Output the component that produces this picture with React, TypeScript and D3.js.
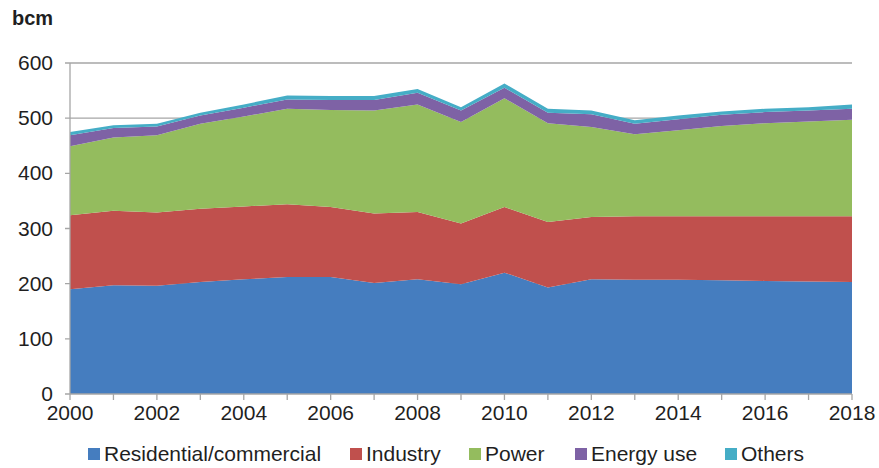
import React, { useEffect, useRef } from "react";
import * as d3 from "d3";

const years = [2000, 2001, 2002, 2003, 2004, 2005, 2006, 2007, 2008, 2009, 2010, 2011, 2012, 2013, 2014, 2015, 2016, 2017, 2018];
const residential = [190, 197, 196, 203, 208, 212, 212, 201, 208, 199, 220, 193, 208, 207, 207, 206, 205, 204, 203];
const industry = [134, 135, 133, 133, 132, 132, 127, 126, 122, 110, 119, 119, 113, 115, 115, 116, 117, 118, 119];
const power = [125, 133, 140, 154, 163, 173, 176, 187, 195, 184, 197, 179, 163, 149, 156, 164, 169, 172, 175];
const energyUse = [20, 17, 16, 15, 16, 17, 18, 19, 21, 21, 19, 19, 23, 19, 20, 20, 20, 20, 20];
const others = [6, 5, 5, 5, 6, 7, 7, 7, 7, 6, 8, 7, 7, 6, 7, 6, 6, 6, 8];

const seriesNames = ["Residential/commercial", "Industry", "Power", "Energy use", "Others"];
const colors = ["#457dbf", "#c0504d", "#94bc5e", "#7e62a5", "#45adc6"];
const yTicks = [0, 100, 200, 300, 400, 500, 600];
const xTicks = [2000, 2002, 2004, 2006, 2008, 2010, 2012, 2014, 2016, 2018];

export default function App() {
  const svgRef = useRef(null);

  useEffect(() => {
    const svg = d3.select(svgRef.current);
    svg.selectAll("*").remove();
    const font = "'Liberation Sans', Arial, sans-serif";
    const left = 70, right = 852, top = 63, bottom = 394;
    const textColor = "#1f1f1f";

    const x = d3.scaleLinear().domain([2000, 2018]).range([left, right]);
    const y = d3.scaleLinear().domain([0, 600]).range([bottom, top]);

    const rows = years.map((yr, i) => ({
      year: yr,
      s0: residential[i],
      s1: industry[i],
      s2: power[i],
      s3: energyUse[i],
      s4: others[i],
    }));
    const layers = d3.stack().keys(["s0", "s1", "s2", "s3", "s4"])(rows);

    // gridlines
    svg
      .append("g")
      .selectAll("line")
      .data(yTicks.filter((t) => t > 0))
      .enter()
      .append("line")
      .attr("x1", left - 5)
      .attr("x2", right)
      .attr("y1", (d) => y(d))
      .attr("y2", (d) => y(d))
      .attr("stroke", "#a6a6a6")
      .attr("stroke-width", 1.3);

    const area = d3
      .area()
      .x((d) => x(d.data.year))
      .y0((d) => y(d[0]))
      .y1((d) => y(d[1]));

    svg
      .append("g")
      .selectAll("path")
      .data(layers)
      .enter()
      .append("path")
      .attr("d", area)
      .attr("fill", (d, i) => colors[i]);

    // axes
    const axisColor = "#a6a6a6";
    svg.append("line").attr("x1", left).attr("x2", left).attr("y1", top).attr("y2", bottom)
      .attr("stroke", axisColor).attr("stroke-width", 1.3);
    svg.append("line").attr("x1", left - 5).attr("x2", right).attr("y1", bottom).attr("y2", bottom)
      .attr("stroke", axisColor).attr("stroke-width", 1.3);

    svg
      .append("g")
      .selectAll("line")
      .data(years)
      .enter()
      .append("line")
      .attr("x1", (d) => x(d))
      .attr("x2", (d) => x(d))
      .attr("y1", bottom)
      .attr("y2", bottom + 6)
      .attr("stroke", axisColor)
      .attr("stroke-width", 1.3);

    svg
      .append("g")
      .selectAll("text")
      .data(yTicks)
      .enter()
      .append("text")
      .attr("x", left - 17)
      .attr("y", (d) => y(d) + 7)
      .attr("text-anchor", "end")
      .attr("font-family", font)
      .attr("font-size", 21)
      .attr("fill", textColor)
      .text((d) => d);

    svg
      .append("g")
      .selectAll("text")
      .data(xTicks)
      .enter()
      .append("text")
      .attr("x", (d) => x(d))
      .attr("y", bottom + 26)
      .attr("text-anchor", "middle")
      .attr("font-family", font)
      .attr("font-size", 21)
      .attr("fill", textColor)
      .text((d) => d);

    svg.append("text").attr("x", 12).attr("y", 25)
      .attr("font-family", font).attr("font-size", 20).attr("font-weight", "bold")
      .attr("fill", textColor).text("bcm");

    // legend
    const legendX = [88, 350, 469, 575, 725];
    const lg = svg.append("g");
    seriesNames.forEach((name, i) => {
      lg.append("rect").attr("x", legendX[i]).attr("y", 448).attr("width", 12).attr("height", 12)
        .attr("fill", colors[i]);
      lg.append("text").attr("x", legendX[i] + 16).attr("y", 461)
        .attr("font-family", font).attr("font-size", 21).attr("fill", textColor).text(name);
    });
  }, []);

  return (
    <svg
      ref={svgRef}
      width="879"
      height="468"
      style={{ position: "absolute", left: 0, top: 0, background: "#fff" }}
    />
  );
}
